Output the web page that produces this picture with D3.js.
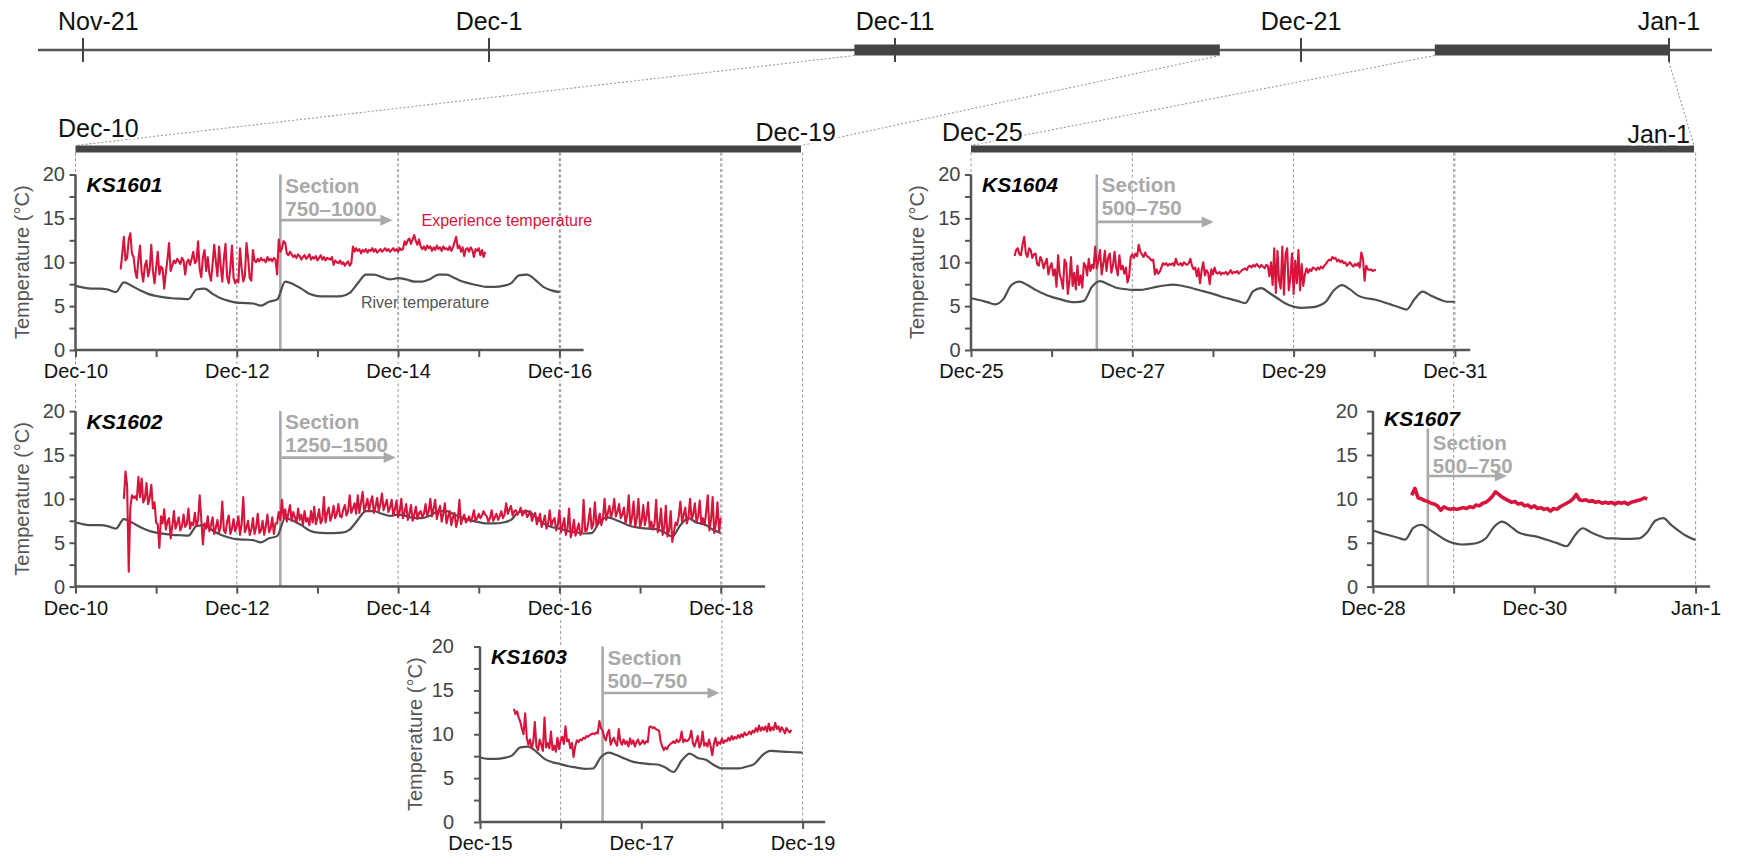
<!DOCTYPE html>
<html>
<head>
<meta charset="utf-8">
<script src="https://cdn.jsdelivr.net/npm/d3@7"></script>
<style>
  body { margin: 0; background: #fff; }
  svg { display: block; font-family: "Liberation Sans", Arial, Helvetica, sans-serif; }
</style>
</head>
<body>
<svg id="chart" width="1742" height="864"></svg>
<script>
// ---------------------------------------------------------------------------
// Data
// ---------------------------------------------------------------------------

// Overview timeline
const overviewTickDates = ["2016-11-21", "2016-12-01", "2016-12-11", "2016-12-21", "2017-01-01"];
const overviewTickLabels = ["Nov-21", "Dec-1", "Dec-11", "Dec-21", "Jan-1"];
const windowStarts = ["2016-12-10", "2016-12-25"];
const windowEnds = ["2016-12-19", "2017-01-01"];

// River temperature (°C), one value every 0.1 day
const riverAStart = "2016-12-10";
const riverA = [
  7.3, 7.1, 7.0, 7.0, 6.9, 6.6, 7.7, 7.3, 6.8, 6.4,
  6.15, 6.0, 5.9, 5.85, 5.8, 6.9, 7.0, 6.4, 5.9, 5.6,
  5.4, 5.35, 5.3, 5.05, 5.5, 5.75, 7.8, 7.5, 7.0, 6.4,
  6.15, 6.1, 6.1, 6.15, 6.5, 7.6, 8.6, 8.6, 8.3, 8.05,
  8.2, 8.05, 7.8, 7.8, 8.1, 8.6, 8.6, 8.2, 7.8, 7.55,
  7.35, 7.2, 7.2, 7.3, 7.6, 8.5, 8.6, 8.0, 7.2, 6.8,
  6.6, 6.35, 6.2, 6.05, 6.1, 7.4, 7.9, 7.6, 7.2, 6.85,
  6.7, 6.6, 6.55, 6.2, 5.7, 7.0, 7.8, 7.3, 7.1, 6.5,
  6.1, 6.1, 6.1, 6.3, 6.6, 7.6, 8.1, 8.05, 8.0, 7.95,
  7.9
];
const riverBStart = "2016-12-25";
const riverB = [
  5.9, 5.7, 5.45, 5.2, 5.8, 7.4, 7.8, 7.4, 6.85, 6.4,
  6.05, 5.8, 5.55, 5.45, 5.6, 7.2, 7.85, 7.5, 7.1, 6.95,
  6.85, 6.85, 7.0, 7.2, 7.35, 7.45, 7.35, 7.15, 6.9, 6.65,
  6.4, 6.1, 5.85, 5.6, 5.35, 6.7, 7.05, 6.5, 5.9, 5.3,
  4.95, 4.8, 4.85, 5.0, 5.5, 6.8, 7.4, 6.9, 6.2, 5.9,
  5.75, 5.5, 5.2, 4.9, 4.6, 5.8, 6.65, 6.2, 5.8, 5.5,
  5.5, 5.45, 5.45, 5.5, 6.2, 7.5, 7.8, 7.0, 6.3, 5.7,
  5.3
];
const riverStep = 0.1;

// Experienced temperature of each tagged fish (°C)
// KS1601-KS1604: one value every 0.02 day; KS1607: one value every 0.04 day
const ks1601Temp = [
  9.2, 11.0, 12.9, 10.2, 10.5, 12.6, 13.3, 11.0, 10.6, 9.0,
  8.2, 10.3, 11.9, 8.9, 7.8, 9.6, 10.2, 8.4, 9.2, 12.0, 9.0, 7.6,
  9.4, 11.2, 8.6, 9.5, 9.3, 7.0, 8.8, 10.3, 12.2, 9.0, 9.6, 10.2,
  9.9, 10.4, 10.1, 9.8, 10.5, 10.2, 8.6, 10.0, 10.3, 9.7, 10.4, 11.2, 9.9, 10.1, 12.4, 9.2,
  8.3, 10.6, 11.4, 9.0, 10.6, 8.7, 7.9, 9.8, 12.0, 10.1, 8.4, 11.8, 9.6, 7.8, 10.4, 12.1,
  8.3, 7.6, 9.4, 11.9, 8.2, 7.6,
  8.0, 7.7, 11.6, 9.3, 7.8, 8.4, 12.2, 10.5, 8.2, 7.9, 11.4, 10.2,
  10.0, 10.4, 10.1, 10.5, 10.2, 10.3, 10.0, 10.6, 10.2, 10.4, 10.1, 10.5, 10.3, 8.6,
  12.6, 11.2, 11.6, 12.4, 12.2, 11.0, 10.8, 11.2,
  10.9, 10.6, 10.8, 10.5, 10.9, 10.7, 10.3, 10.6, 10.8, 10.4,
  10.6, 10.9, 10.3, 10.6, 10.4, 10.7, 10.2, 10.5, 10.8, 10.3,
  10.6, 10.2, 10.5, 10.4, 10.3, 10.6, 9.7, 10.2, 10.0, 9.9,
  10.2, 9.8, 10.0, 9.6, 9.9, 10.1, 9.6, 9.9,
  11.8, 11.2, 11.6, 11.3, 11.5, 11.0, 11.4, 11.2, 11.5, 11.1,
  11.4, 11.3, 11.6, 11.2, 11.5, 11.1, 11.3, 11.5, 11.2, 11.4,
  11.6, 11.3, 11.5, 11.2, 11.4, 11.6, 11.3, 11.5, 11.2, 11.6, 11.4, 11.5,
  12.4, 12.0, 12.5, 12.7, 12.1, 12.6, 13.1, 12.4, 12.0, 12.6, 11.8, 11.5,
  11.8, 11.4, 11.9, 11.6, 11.8, 11.3, 11.7, 11.4, 11.9, 11.5,
  11.7, 11.3, 11.8, 11.5, 11.6, 11.4, 11.8, 11.3, 11.7, 12.3,
  12.9, 11.6, 11.9, 11.2, 11.7, 10.7, 11.5, 11.6, 11.2, 11.7,
  11.4, 10.6, 11.5, 11.3, 11.6, 10.8, 11.4, 10.6, 11.2
];
const ks1602Temp = [
  10.0, 13.1, 11.5, 1.7, 9.0,
  10.4, 10.1, 10.3, 9.9, 12.5, 10.2, 12.3, 9.6, 10.0, 11.8, 9.4, 10.1, 11.6, 8.9, 9.6,
  7.3, 7.1, 4.4, 8.0, 7.2,
  8.8, 6.5, 7.4, 7.8, 5.5, 6.9, 8.6, 6.6, 7.2, 7.9,
  6.4, 6.9, 8.2, 6.8, 7.1, 8.9, 6.6, 7.3, 7.0, 8.4, 6.9, 7.6, 10.4,
  7.6, 4.8, 7.2, 6.6, 8.0,
  6.3, 7.0, 7.9, 6.0, 6.7, 7.6, 6.2, 6.8, 9.7, 6.4,
  6.1, 7.4, 8.1, 6.0, 6.6, 7.7, 6.3, 6.9, 8.0, 5.9,
  7.1, 10.2, 6.2, 6.7, 7.5, 5.9, 6.5, 7.8, 6.0, 6.8,
  8.3, 6.1, 6.4, 7.5, 5.9, 6.9, 8.2, 6.2, 6.6, 7.9, 6.0, 7.2,
  7.2, 8.5, 7.6, 9.9, 7.8, 8.8, 7.4, 8.4, 9.3, 7.5,
  8.5, 7.9, 7.3, 8.9, 7.6, 8.2, 7.0, 8.6, 7.4, 7.8,
  7.0, 8.6, 7.3, 9.1, 7.1, 7.8, 8.8, 7.2, 7.6, 10.2,
  7.3, 8.4, 9.0, 7.5, 8.1, 9.2, 7.8, 8.3, 9.4, 8.0,
  7.9, 8.8, 9.3, 8.1, 8.6, 10.4, 8.4, 8.9, 9.5, 8.3,
  10.4, 8.4, 9.6, 10.8, 8.5, 9.2, 10.0, 8.6, 9.7, 10.3,
  8.4, 9.1, 10.1, 8.6, 9.4, 10.6, 8.7, 9.3, 9.9, 8.5, 9.0,
  9.9, 8.1, 8.8, 9.8, 7.9, 8.6, 10.0, 7.8, 8.5, 9.4,
  7.6, 8.3, 9.3, 7.5, 8.2, 9.1, 7.7, 8.4, 8.6, 7.9, 8.3, 9.4, 8.1, 8.6,
  10.0, 8.0, 8.9, 9.9, 7.7, 8.5, 9.2, 7.4, 8.3, 9.5, 7.2, 8.0, 8.6, 7.0, 7.9,
  8.4, 6.8, 7.6, 9.9, 7.1, 7.8, 8.2, 7.3, 7.6, 8.0,
  7.4, 7.9, 8.7, 7.5, 7.8, 8.3, 7.8, 8.1, 8.6, 8.2,
  8.0, 7.4, 7.8, 8.7, 7.5, 7.9, 8.3, 7.6, 8.0, 8.6,
  7.8, 8.2, 9.5, 8.3, 8.8, 9.2, 8.1, 8.6, 8.7, 8.2,
  8.5, 9.0, 8.1, 8.4, 8.7, 7.9, 8.2, 8.6, 7.5, 8.0,
  8.4, 7.1, 7.6, 8.3, 6.8, 7.4, 8.1, 6.6, 7.2, 8.7, 6.9, 7.5, 7.8, 6.4, 7.0,
  8.7, 6.2, 6.9, 7.8, 5.9, 6.6, 8.9, 5.6, 6.4, 7.6, 5.8, 6.5, 7.2, 5.9, 6.2, 9.9, 6.3,
  6.4, 7.4, 8.9, 6.6, 7.1, 9.6, 6.9, 7.5, 8.3, 7.0, 7.8, 10.0,
  7.6, 8.4, 9.2, 7.9, 8.6, 10.0, 8.0, 8.5, 9.4, 7.8, 8.2, 9.0,
  7.2, 8.1, 10.4, 7.0, 7.9, 9.7, 6.8, 7.8, 10.0, 6.7, 7.5, 9.3, 7.0, 8.0, 9.6, 6.6, 7.4,
  6.5, 7.2, 9.9, 6.2, 7.0, 8.9, 5.9, 6.7, 9.2, 5.7, 6.4, 8.6, 5.1, 6.2, 7.3,
  7.0, 8.0, 9.7, 7.4, 8.1, 9.0, 7.2, 7.9, 10.0, 7.6, 8.3, 9.5, 7.3, 8.0, 9.8, 7.1, 7.8,
  7.0, 8.5, 10.4, 6.4, 7.6, 10.2, 6.1, 7.2, 9.6, 6.2, 7.8
];
const ks1603Temp = [
  12.9, 12.3, 12.6, 11.9, 11.4, 10.6,
  10.0, 12.4, 9.6, 8.8, 9.4, 8.4, 9.1, 11.4,
  8.6, 8.2, 9.4, 8.8, 8.1, 11.9, 8.5, 9.0, 8.4, 10.3, 8.2, 8.7, 8.0, 9.6, 8.3,
  9.3, 9.7, 8.9, 10.9, 9.2, 9.4, 8.4, 9.0, 7.4, 8.6, 9.3, 9.1,
  9.4, 9.3, 9.6, 9.5, 9.8, 9.7, 9.9, 10.0, 10.1, 10.0, 10.2, 10.1,
  11.5, 10.7, 10.4, 9.7, 9.3, 10.1,
  10.5, 8.8, 9.3, 9.6, 9.0, 8.7, 10.6, 9.2, 8.8, 9.4,
  8.9, 9.2, 8.6, 9.5, 8.9, 9.3, 8.6, 9.1, 9.4, 8.8, 9.0, 9.3, 8.9, 9.2, 9.1,
  10.8, 10.9, 10.7, 10.8, 10.6, 10.5, 10.4,
  9.2, 8.6, 8.2, 8.5, 8.3, 8.7, 8.9, 9.0,
  9.2, 9.0, 9.4, 9.1, 9.3, 10.3, 9.1, 9.4, 9.2, 9.3, 9.6, 10.4, 9.0, 8.6, 9.2,
  9.8, 8.5, 8.9, 10.3, 8.7, 9.0, 8.6, 9.4, 8.6, 7.6,
  8.9, 9.6, 8.7, 9.1, 8.9, 9.5, 9.0, 9.3,
  9.2, 9.6, 9.3, 9.8, 9.4, 9.7, 9.5, 9.9, 9.6, 10.0,
  9.7, 10.2, 9.9, 10.0, 10.3, 10.0, 10.4,
  10.2, 10.7, 10.3, 11.0, 10.4, 10.8, 10.5, 10.9, 10.3, 11.2,
  10.4, 10.8, 10.5, 11.3, 10.6, 10.9, 10.3, 10.8, 10.5, 10.1,
  10.7, 10.4, 10.2, 10.5
];
const ks1604Temp = [
  10.7, 11.4, 11.6, 10.9, 10.8, 12.1, 12.9, 11.0, 10.6, 11.6, 11.4, 10.5, 10.9,
  11.0, 9.8, 9.6, 10.6, 10.2, 9.3, 9.9, 10.4, 8.6, 9.5, 9.9, 8.5, 9.2,
  7.2, 10.8, 8.6, 8.0, 7.0, 10.3, 9.9, 6.4, 7.8, 10.6, 7.3, 8.8, 6.9, 9.6, 7.4, 8.5, 7.1, 9.9,
  9.6, 8.5, 10.4, 9.0, 9.7, 9.3,
  11.8, 9.3, 10.2, 11.4, 8.6, 9.8, 11.3, 9.0, 10.5, 11.0,
  8.8, 9.6, 11.2, 9.4, 8.5, 10.8, 9.2, 9.6, 8.7, 9.4,
  7.7, 8.4, 10.6,
  10.9, 10.5, 11.0, 10.7, 12.0, 11.2, 10.9, 10.6, 11.1, 10.7, 10.6, 10.4, 10.2, 10.3,
  8.6, 9.2, 8.7, 8.9, 9.4, 9.9,
  9.7, 9.9, 9.6, 9.8, 9.7, 9.9, 9.6, 10.4, 9.8, 9.7,
  9.9, 9.6, 10.0, 9.8, 9.7, 9.9, 10.4, 9.6, 9.2, 9.4,
  8.4, 9.3, 7.6, 9.1, 10.0, 8.5, 9.1, 8.8, 7.5, 9.2, 8.6, 9.4, 8.8, 8.7, 8.9,
  8.6, 8.8, 8.7, 8.9, 8.6, 8.8, 9.1, 8.7, 8.9, 8.8, 9.0, 8.7, 8.9, 9.1, 9.2, 9.3, 9.1,
  9.5, 9.6, 9.4, 9.7, 9.5, 9.8, 9.6, 9.4, 9.7, 9.5, 9.3, 9.7, 9.6,
  8.4, 10.0, 7.4, 11.6, 6.5, 11.3, 7.9, 7.0, 11.8, 6.3,
  10.9, 11.6, 6.8, 8.2, 11.0, 6.4, 10.2, 7.6, 11.4, 6.8, 9.8, 7.3, 8.6,
  9.3, 8.8, 9.2, 9.0, 9.4, 9.3, 9.1, 9.4, 9.2, 9.5, 9.3, 9.6, 9.8,
  10.1, 10.3, 10.2, 10.6, 10.4, 10.5, 10.1, 10.3, 10.0, 10.2,
  9.9, 10.0, 9.6, 9.8, 10.0, 9.7, 9.5, 9.8, 9.6, 9.9, 9.4, 11.1,
  10.4, 7.9, 9.6, 9.2, 9.1, 9.2, 9.0, 9.1, 9.1
];
const ks1607Temp = [
  10.4, 11.2, 10.1, 10.0, 9.8, 9.7, 9.5, 9.4, 9.2, 8.7,
  9.1, 8.9, 8.8, 8.9, 8.8, 8.9, 9.0, 8.9, 9.1, 9.0,
  9.3, 9.2, 9.5, 9.6, 9.9, 10.3, 10.8, 10.5, 10.2, 10.0,
  9.8, 9.6, 9.7, 9.4, 9.5, 9.2, 9.3, 9.0, 9.2, 8.9,
  9.0, 8.8, 8.9, 8.6, 8.9, 8.8, 9.1, 9.3, 9.5, 9.7,
  10.0, 10.5, 9.9, 9.8, 9.9, 9.7, 9.8, 9.6, 9.7, 9.5,
  9.6, 9.5, 9.6, 9.4, 9.6, 9.5, 9.6, 9.4, 9.6, 9.7,
  9.8, 9.9, 10.1, 10.0
];

// Panel descriptions
const tagIds = ["KS1601", "KS1602", "KS1603", "KS1604", "KS1607"];
const tagTemps = [ks1601Temp, ks1602Temp, ks1603Temp, ks1604Temp, ks1607Temp];
const tagStep = [0.02, 0.02, 0.02, 0.02, 0.04];           // days between readings
const tagFirstDay = [0.56, 0.60, 0.42, 0.54, 0.48];      // days after panel start
const panelStart = ["2016-12-10", "2016-12-10", "2016-12-15", "2016-12-25", "2016-12-28"];
const panelDays = [6, 8, 4, 6, 4];                        // last labelled day
const panelRiver = ["A", "A", "A", "B", "B"];
const guideDays = [[0, 2, 4, 6], [0, 2, 4, 6, 8], [1, 3, 4], [0, 2, 4, 6], [1, 3, 4]];
const sectionNames = ["750–1000", "1250–1500", "500–750", "500–750", "500–750"];
const sectionEntryDay = [2.54, 2.54, 1.52, 1.56, 0.68];
const sectionArrowEndDay = [3.93, 3.97, 2.97, 3.01, 1.66];
const sectionArrowLevel = [14.8, 14.7, 14.7, 14.6, 12.6];
const sectionTextLevel = [18.75, 18.75, 18.75, 18.8, 16.4];
const tagLabelLevel = [18.85, 18.85, 18.85, 18.85, 19.2];
const yTickValues = [0, 5, 10, 15, 20];

// ---------------------------------------------------------------------------
// Layout
// ---------------------------------------------------------------------------
const PX_PER_DAY = 80.65;
const PANEL_H = 175.5;
const AXIS_COLOR = "#555";
const RED = "#d7143c";
const RIVER_COLOR = "#4f4f4f";
const SECTION_COLOR = "#a9a9a9";
const GUIDE_COLOR = "#9a9a9a";
const SECTION_FONT = 20.5;
const SECTION_LINE_GAP = 23;

const panelLayout = [
  { x0: 75.5, y0: 350, extra: 0.30, tickPad: 4.5, titleDx: -54, lineW: 2.1 },
  { x0: 75.5, y0: 586.6, extra: 0.55, tickPad: 4.5, titleDx: -54, lineW: 2.1 },
  { x0: 480, y0: 822, extra: 0.28, tickPad: 20, titleDx: -65, lineW: 2.1 },
  { x0: 971, y0: 350, extra: 0.19, tickPad: 4.5, titleDx: -54, lineW: 2.1 },
  { x0: 1373, y0: 586.6, extra: 0.18, tickPad: 9, titleDx: null, lineW: 3.6 }
];

const overviewY = 50;
const headerY = 149;

const DAY_MS = 864e5;
const parse = d3.utcParse("%Y-%m-%d");
const addDays = (d, n) => new Date(d.getTime() + n * DAY_MS);
const fmt = d3.utcFormat("%b-%-d");

const svg = d3.select("#chart");

function halo(sel, w) {
  return sel.attr("stroke", "#fff").attr("stroke-width", w || 5)
    .attr("stroke-linejoin", "round").attr("paint-order", "stroke");
}

// ---------------------------------------------------------------------------
// Overview timeline
// ---------------------------------------------------------------------------
const ovDates = overviewTickDates.map(parse);
const overview = d3.scaleUtc()
  .domain([ovDates[0], ovDates[3], ovDates[4]])
  .range([83, 1301, 1669]);

const gOv = svg.append("g");
gOv.append("line")
  .attr("x1", 38).attr("x2", 1712)
  .attr("y1", overviewY).attr("y2", overviewY)
  .attr("stroke", AXIS_COLOR).attr("stroke-width", 2.5);

windowStarts.forEach((s, i) => {
  const a = overview(parse(s)), b = overview(parse(windowEnds[i]));
  gOv.append("rect")
    .attr("x", a).attr("y", overviewY - 5.5)
    .attr("width", b - a).attr("height", 11)
    .attr("fill", "#444");
});

gOv.selectAll(".ovtick").data(ovDates).join("line")
  .attr("x1", d => overview(d)).attr("x2", d => overview(d))
  .attr("y1", overviewY - 12).attr("y2", overviewY + 12)
  .attr("stroke", "#444").attr("stroke-width", 2);

gOv.selectAll(".ovlabel").data(ovDates).join("text")
  .attr("x", (d, i) => i === 0 ? overview(d) - 25 : overview(d)).attr("y", 30)
  .attr("text-anchor", (d, i) => i === 0 ? "start" : "middle")
  .attr("font-size", 25).attr("fill", "#111")
  .text((d, i) => overviewTickLabels[i]);

// ---------------------------------------------------------------------------
// Detail headers
// ---------------------------------------------------------------------------
const headerScales = [
  d3.scaleUtc().domain([parse(windowStarts[0]), parse(windowEnds[0])]).range([75.5, 801]),
  d3.scaleUtc().domain([parse(windowStarts[1]), parse(windowEnds[1])]).range([971, 1694])
];

// dotted connectors from the overview to the detail headers
const gConn = svg.append("g").attr("fill", "none")
  .attr("stroke", GUIDE_COLOR).attr("stroke-width", 1.1).attr("stroke-dasharray", "2,2");
windowStarts.forEach((s, i) => {
  const hs = headerScales[i];
  const ds = parse(s), de = parse(windowEnds[i]);
  const endDrop = i === 1 ? 12 : 5.5;
  gConn.append("line")
    .attr("x1", overview(ds)).attr("y1", overviewY + 5.5)
    .attr("x2", hs(ds)).attr("y2", headerY - 3.5);
  gConn.append("line")
    .attr("x1", overview(de)).attr("y1", overviewY + endDrop)
    .attr("x2", hs(de)).attr("y2", headerY - 3.5);
});

// vertical guides run from a header down to each panel's axis
const gGuides = svg.append("g").attr("stroke", GUIDE_COLOR)
  .attr("stroke-width", 1).attr("stroke-dasharray", "3,2.5");

const gHeaders = svg.append("g");
headerScales.forEach(hs => {
  const [a, b] = hs.range();
  gHeaders.append("rect")
    .attr("x", a).attr("y", headerY - 3.5)
    .attr("width", b - a).attr("height", 7)
    .attr("fill", "#444");
});
const headerLabels = [
  { t: fmt(parse(windowStarts[0])), x: 58, y: 137, anchor: "start" },
  { t: fmt(parse(windowEnds[0])), x: 836, y: 141, anchor: "end" },
  { t: fmt(parse(windowStarts[1])), x: 942, y: 141, anchor: "start" },
  { t: fmt(parse(windowEnds[1])), x: 1690, y: 143, anchor: "end" }
];

// ---------------------------------------------------------------------------
// Panels
// ---------------------------------------------------------------------------
const riverSeries = {
  A: riverA.map((v, i) => ({ t: addDays(parse(riverAStart), i * riverStep), v })),
  B: riverB.map((v, i) => ({ t: addDays(parse(riverBStart), i * riverStep), v }))
};

tagIds.forEach((id, p) => {
  const L = panelLayout[p];
  const start = parse(panelStart[p]);
  const axisDays = panelDays[p] + L.extra;
  const x = d3.scaleUtc()
    .domain([start, addDays(start, axisDays)])
    .range([L.x0, L.x0 + axisDays * PX_PER_DAY]);
  const y = d3.scaleLinear().domain([0, 20]).range([L.y0, L.y0 - PANEL_H]);

  // guides
  guideDays[p].forEach(dd => {
    const gx = x(addDays(start, dd));
    gGuides.append("line")
      .attr("x1", gx).attr("x2", gx)
      .attr("y1", headerY + 3.5).attr("y2", L.y0);
  });

  const g = svg.append("g");

  // section entry marker and arrow
  const sx = x(addDays(start, sectionEntryDay[p]));
  const ax = x(addDays(start, sectionArrowEndDay[p]));
  const ay = y(sectionArrowLevel[p]);
  g.append("line")
    .attr("x1", sx).attr("x2", sx).attr("y1", y(20)).attr("y2", y(0))
    .attr("stroke", SECTION_COLOR).attr("stroke-width", 2.6);
  g.append("line")
    .attr("x1", sx).attr("x2", ax - 9).attr("y1", ay).attr("y2", ay)
    .attr("stroke", SECTION_COLOR).attr("stroke-width", 2.6);
  g.append("path")
    .attr("d", `M${ax},${ay} L${ax - 12},${ay - 5.5} L${ax - 12},${ay + 5.5} Z`)
    .attr("fill", SECTION_COLOR);
  const ty = y(sectionTextLevel[p]);
  g.append("text")
    .attr("x", sx + 5).attr("y", ty).attr("dy", "0.36em")
    .attr("font-size", SECTION_FONT).attr("font-weight", "bold").attr("fill", SECTION_COLOR)
    .text("Section");
  g.append("text")
    .attr("x", sx + 5).attr("y", ty + SECTION_LINE_GAP).attr("dy", "0.36em")
    .attr("font-size", SECTION_FONT).attr("font-weight", "bold").attr("fill", SECTION_COLOR)
    .text(sectionNames[p]);

  // river temperature
  const endDate = addDays(start, panelDays[p]);
  const river = riverSeries[panelRiver[p]].filter(d => d.t >= start && d.t <= endDate);
  const line = d3.line().x(d => x(d.t)).y(d => y(d.v)).curve(d3.curveMonotoneX);
  g.append("path").datum(river)
    .attr("d", line).attr("fill", "none")
    .attr("stroke", RIVER_COLOR).attr("stroke-width", 2.2);

  // experienced temperature
  const tag = tagTemps[p].map((v, i) => ({ t: addDays(start, tagFirstDay[p] + i * tagStep[p]), v }));
  g.append("path").datum(tag)
    .attr("d", d3.line().x(d => x(d.t)).y(d => y(d.v)))
    .attr("fill", "none").attr("stroke", RED)
    .attr("stroke-width", L.lineW).attr("stroke-linejoin", "round");

  // axes
  const xAxis = d3.axisBottom(x)
    .tickValues(d3.range(0, Math.floor(axisDays) + 1).map(k => addDays(start, k)))
    .tickSize(7).tickPadding(7)
    .tickFormat((d, k) => k % 2 === 0 ? fmt(d) : "");
  const gx = g.append("g").attr("transform", `translate(0,${L.y0})`).call(xAxis);
  gx.select(".domain").attr("d", `M${L.x0},0H${x.range()[1]}`)
    .attr("stroke", AXIS_COLOR).attr("stroke-width", 2.5);
  gx.selectAll(".tick line").attr("stroke", AXIS_COLOR).attr("stroke-width", 2);
  gx.selectAll(".tick text")
    .attr("font-size", 20).attr("fill", "#111").attr("font-family", null)
    .call(halo, 5);

  const yAxis = d3.axisLeft(y).tickValues(d3.range(0, 20.1, 2.5))
    .tickSize(6).tickPadding(L.tickPad)
    .tickFormat(v => yTickValues.includes(v) ? v : "");
  const gy = g.append("g").attr("transform", `translate(${L.x0},0)`).call(yAxis);
  gy.select(".domain").attr("d", `M0,${y(0)}V${y(20)}`)
    .attr("stroke", AXIS_COLOR).attr("stroke-width", 2.5);
  gy.selectAll(".tick line").attr("stroke", AXIS_COLOR).attr("stroke-width", 2);
  gy.selectAll(".tick text")
    .attr("font-size", 20).attr("fill", "#444").attr("font-family", null);

  if (L.titleDx !== null) {
    g.append("text")
      .attr("transform", `translate(${L.x0 + L.titleDx},${y(10)}) rotate(-90)`)
      .attr("text-anchor", "middle").attr("dy", "0.36em")
      .attr("font-size", 20).attr("fill", "#555")
      .text("Temperature (°C)");
  }

  // tag id
  g.append("text")
    .attr("x", L.x0 + 11).attr("y", y(tagLabelLevel[p])).attr("dy", "0.36em")
    .attr("font-size", 21).attr("font-weight", "bold").attr("font-style", "italic")
    .attr("fill", "#000")
    .call(halo, 6)
    .text(id);

  // series labels
  if (p === 0) {
    g.append("text")
      .attr("x", x(addDays(start, 4.29))).attr("y", y(14.8)).attr("dy", "0.36em")
      .attr("font-size", 16).attr("fill", RED)
      .text("Experience temperature");
    g.append("text")
      .attr("x", x(addDays(start, 3.54))).attr("y", y(5.43)).attr("dy", "0.36em")
      .attr("font-size", 16).attr("fill", "#555")
      .text("River temperature");
  }
});

// header labels on top of guides
headerLabels.forEach(h => {
  svg.append("text")
    .attr("x", h.x).attr("y", h.y)
    .attr("text-anchor", h.anchor)
    .attr("font-size", 25).attr("fill", "#111")
    .call(halo, 5)
    .text(h.t);
});
</script>
</body>
</html>
